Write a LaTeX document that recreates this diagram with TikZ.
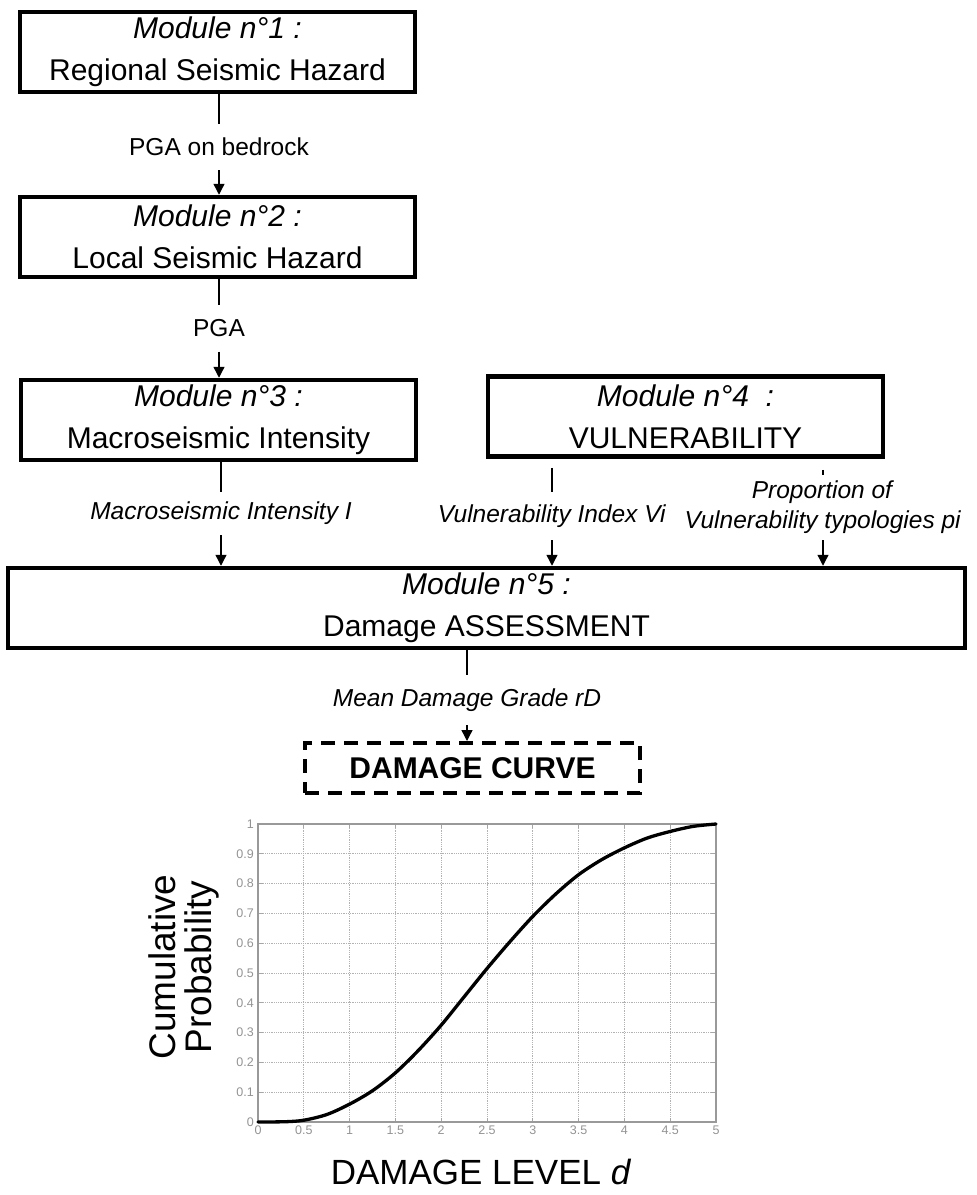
\documentclass[tikz,border=0pt]{standalone}
\usepackage{fontspec}
\setmainfont{Liberation Sans}
\usetikzlibrary{positioning, arrows.meta}

\begin{document}
\begin{tikzpicture}[
        x=1pt, y=-1pt,
        module/.style={draw, line width=4.5pt, minimum width=395pt, minimum height=80pt, align=center, inner sep=0pt, font=\fontsize{30}{42}\selectfont},
        lbl/.style={font=\fontsize{24.5}{30}\selectfont, inner sep=0pt, minimum height=46pt, align=center},
        flow/.style={-{Triangle[length=11pt, width=11pt]}, line width=1.3pt},
        link/.style={line width=1.3pt},
        gridline/.style={gray!60, densely dotted, line width=0.8pt},
        ticklbl/.style={font=\fontsize{12.5}{14}\selectfont, text=gray!85, inner sep=4pt},
    ]
    \useasboundingbox (0,0) rectangle (977,1195);

    % Modules
    \node[module] (m1) at (217.5,52) {\textit{Module n°1 :}\\Regional Seismic Hazard};
    \node[module] (m2) at (217.5,237) {\textit{Module n°2 :}\\Local Seismic Hazard};
    \node[module] (m3) at (218.5,420) {\textit{Module n°3 :}\\Macroseismic Intensity};
    \node[module] (m4) at (685.5,416.5) {\textit{Module n°4~ :}\\VULNERABILITY};
    \node[module, minimum width=957pt] (m5) at (486.5,608) {\textit{Module n°5 :}\\Damage ASSESSMENT};
    \node[draw, line width=4pt, dash pattern=on 14pt off 9pt, minimum width=335pt, minimum height=50pt, inner sep=0pt, font=\bfseries\fontsize{30}{36}\selectfont] (dc) at (472.5,768) {DAMAGE CURVE};

    % Labels of the links
    \node[lbl] (l1) at (219,147) {PGA on bedrock};
    \node[lbl] (l2) at (219,328.5) {PGA};
    \node[lbl, minimum height=43pt] (l3) at (221,513.5) {\textit{Macroseismic Intensity I}};
    \node[lbl, minimum height=48pt] (l4) at (552,516) {\textit{Vulnerability Index Vi}};
    \node[lbl, minimum height=65pt] (l5) at (823,507.5) {\textit{Proportion of}\\\textit{Vulnerability typologies pi}};
    \node[lbl, minimum height=50pt] (l6) at (467,700) {\textit{Mean Damage Grade rD}};

    % Links
    \draw[link] (m1.south -| l1) -- (l1);
    \draw[flow] (l1) -- (m2.north -| l1);
    \draw[link] (m2.south -| l2) -- (l2);
    \draw[flow] (l2) -- (m3.north -| l2);
    \draw[link] (m3.south -| l3) -- (l3);
    \draw[flow] (l3) -- (m5.north -| l3);
    \draw[link, shorten <=9pt] (m4.south -| l4) -- (l4);
    \draw[flow] (l4) -- (m5.north -| l4);
    \draw[link, shorten <=11pt] (m4.south -| l5) -- (l5);
    \draw[flow] (l5) -- (m5.north -| l5);
    \draw[link] (m5.south -| l6) -- (l6);
    \draw[flow] (l6) -- (dc.north -| l6);

    % Damage curve
    \begin{scope}[shift={(258,1122)}, x=91.6pt, y=298pt]
        \foreach \i in {1,...,9} \draw[gridline] (\i/2,0) -- (\i/2,1);
        \foreach \i in {1,...,9} \draw[gridline] (0,\i/10) -- (5,\i/10);
        \foreach \i in {1,...,9} {
            \draw[gray!70, line width=0.8pt] (\i/2,0) -- ++(0,0.015) (\i/2,1) -- ++(0,-0.015);
            \draw[gray!70, line width=0.8pt] (0,\i/10) -- ++(0.05,0) (5,\i/10) -- ++(-0.05,0);
        }
        \draw[gray!80, line width=1.5pt] (0,0) rectangle (5,1);
        \foreach \v [count=\k] in {0,0.1,0.2,0.3,0.4,0.5,0.6,0.7,0.8,0.9,1}
            \node[ticklbl, left] (yt\k) at (0,\v) {\v};
        \foreach \v [count=\k] in {0,0.5,1,1.5,2,2.5,3,3.5,4,4.5,5}
            \node[ticklbl, below] (xt\k) at (\v,0) {\v};
        \draw[line width=3.3pt, line cap=round] plot[smooth] coordinates {
            (0,0) (0.3,0.001) (0.5,0.006) (0.75,0.025) (1,0.06) (1.25,0.105)
            (1.5,0.165) (1.75,0.24) (2,0.325) (2.25,0.42) (2.5,0.515) (2.75,0.605)
            (3,0.69) (3.25,0.765) (3.5,0.83) (3.75,0.88) (4,0.92) (4.25,0.953)
            (4.5,0.975) (4.75,0.992) (5,1)};
    \end{scope}

    % Axis titles
    \node[rotate=90, align=center, inner sep=0pt, font=\fontsize{37}{36}\selectfont] (ylab) at (184,967) {Cumulative\\Probability};
    \node[inner sep=0pt, font=\fontsize{35}{40}\selectfont] (xlab) at (481,1172) {DAMAGE LEVEL \textit{d}};
\end{tikzpicture}
\end{document}
